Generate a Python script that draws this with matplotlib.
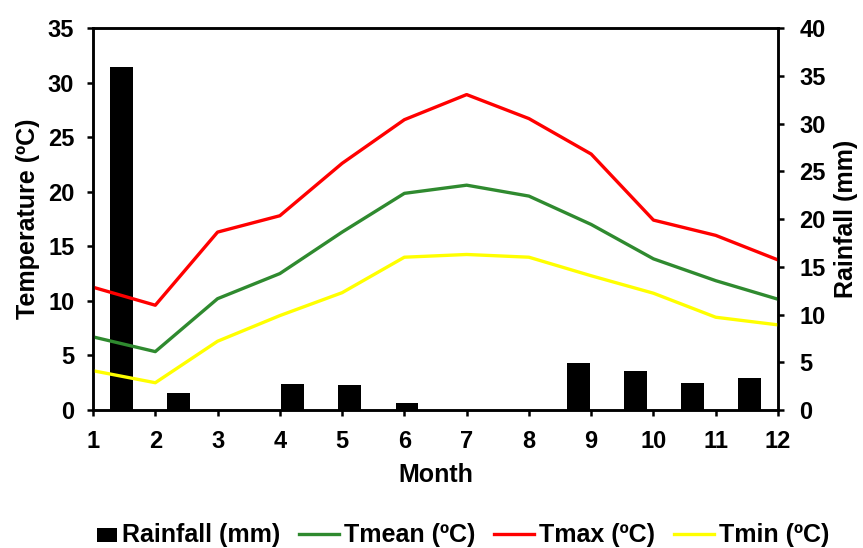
import numpy as np
import matplotlib
matplotlib.use("Agg")
import matplotlib.pyplot as plt
from matplotlib.patches import Rectangle
from matplotlib.legend_handler import HandlerPatch

# ---- data ----
months = np.arange(1, 13)
rainfall_mm = [35.9, 1.8, 0.0, 2.7, 2.6, 0.7, 0.0, 0.0, 4.9, 4.1, 2.8, 3.4]
tmean = [6.7, 5.35, 10.2, 12.5, 16.3, 19.85, 20.6, 19.6, 17.0, 13.85, 11.85, 10.15]
tmax = [11.25, 9.6, 16.3, 17.8, 22.6, 26.6, 28.9, 26.7, 23.45, 17.4, 16.0, 13.75]
tmin = [3.6, 2.5, 6.3, 8.65, 10.75, 14.0, 14.25, 14.0, 12.3, 10.7, 8.5, 7.8]

plt.rcParams["font.family"] = ["Liberation Sans", "DejaVu Sans"]
plt.rcParams["font.weight"] = "bold"
FS = 17      # tick labels
FS_LAB = 18  # axis titles and legend

fig = plt.figure(figsize=(8.63, 5.48), dpi=100)
box = [0.1078, 0.2518, 0.7937, 0.6971]

# rainfall bars live on their own category axis (12 slots across the plot)
axb = fig.add_axes(box, zorder=1)
slots = np.arange(len(rainfall_mm)) + 0.5
bars = axb.bar(slots, rainfall_mm, width=0.4, color="black", label="Rainfall (mm)")
axb.set_xlim(0, 12)
axb.set_ylim(0, 40)
axb.set_yticks(range(0, 41, 5))
axb.yaxis.tick_right()
axb.yaxis.set_label_position("right")
axb.set_ylabel("Rainfall (mm)", fontsize=FS_LAB, fontweight="bold", labelpad=6)
axb.xaxis.set_visible(False)

# temperature lines on the main axis
ax = fig.add_axes(box, zorder=2)
ax.patch.set_visible(False)
l1, = ax.plot(months, tmean, color="#2f8a2f", lw=2.4, label="Tmean (ºC)")
l2, = ax.plot(months, tmax, color="#ff0000", lw=2.4, label="Tmax (ºC)")
l3, = ax.plot(months, tmin, color="#ffff00", lw=2.4, label="Tmin (ºC)")
ax.set_xlim(1, 12)
ax.set_ylim(0, 35)
ax.set_xticks(months)
ax.set_yticks(range(0, 36, 5))
ax.set_xlabel("Month", fontsize=FS_LAB, fontweight="bold", labelpad=7)
ax.set_ylabel("Temperature (ºC)", fontsize=FS_LAB, fontweight="bold", labelpad=6)

for a in (ax, axb):
    for s in a.spines.values():
        s.set_linewidth(1.8)
    a.tick_params(direction="out", length=4.5, width=1.8, labelsize=FS)
    for t in a.get_xticklabels() + a.get_yticklabels():
        t.set_fontweight("bold")
ax.tick_params(axis="x", pad=10)
ax.tick_params(axis="y", right=False, pad=9)
axb.tick_params(axis="y", left=False, pad=11)


def small_box(legend, orig_handle, xdescent, ydescent, width, height, fontsize):
    # narrower swatch, pushed against the label like Excel does
    w = width * 0.5
    return Rectangle((xdescent + width - w, ydescent), w, height * 0.85)


bar_handle = bars.patches[0]
fig.legend([bar_handle, l1, l2, l3],
           ["Rainfall (mm)", "Tmean (ºC)", "Tmax (ºC)", "Tmin (ºC)"],
           loc="lower center", bbox_to_anchor=(0.525, -0.04), ncol=4,
           frameon=False, prop={"size": FS_LAB, "weight": "bold"},
           handlelength=1.6, handletextpad=0.2, columnspacing=0.75,
           handler_map={bar_handle: HandlerPatch(patch_func=small_box)})

fig.savefig("out.png", dpi=100)
